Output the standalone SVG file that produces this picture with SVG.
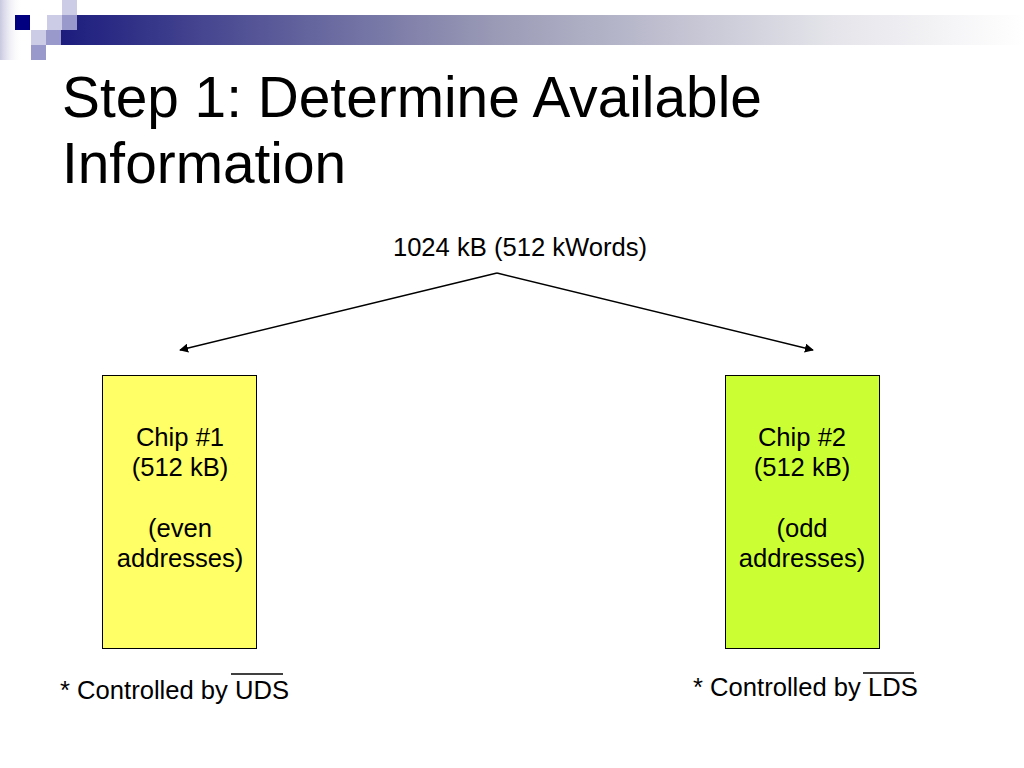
<svg xmlns="http://www.w3.org/2000/svg" width="1024" height="768" viewBox="0 0 1024 768">
<defs>
<style>
text{font-family:"Liberation Sans",Arial,sans-serif;fill:#000}
.t{font-size:56.8px}
.b{font-size:25.6px}
.box{stroke:#000;stroke-width:1}
.conn{stroke:#000;stroke-width:1.5;fill:none}
</style>
<linearGradient id="bar" x1="0" y1="0" x2="1" y2="0">
<stop offset="0" stop-color="#1C1C7E"/>
<stop offset="0.45" stop-color="#9A9AB6"/>
<stop offset="0.8" stop-color="#E4E4EA"/>
<stop offset="1" stop-color="#FFFFFF"/>
</linearGradient>
<linearGradient id="edge" x1="0" y1="0" x2="1" y2="0">
<stop offset="0" stop-color="#C8C8E0"/>
<stop offset="1" stop-color="#FFFFFF" stop-opacity="0"/>
</linearGradient>
<marker id="ah" viewBox="0 0 10 10" refX="9" refY="5" markerWidth="9" markerHeight="9" markerUnits="userSpaceOnUse" orient="auto">
<path d="M0,0 L10,5 L0,10 Z" fill="#000"/>
</marker>
</defs>
<rect width="1024" height="768" fill="#FFFFFF"/>
<g id="header">
<rect x="0" y="0" width="22" height="60" fill="url(#edge)"/>
<rect x="61" y="15" width="963" height="30" fill="url(#bar)"/>
<rect x="15" y="15" width="15" height="15" fill="#000080"/>
<rect x="47" y="15" width="15" height="15" fill="#CCCCE6"/>
<rect x="62" y="0" width="15" height="15" fill="#CCCCE6"/>
<rect x="62" y="15" width="15" height="15" fill="#9999CC"/>
<rect x="31" y="30" width="15" height="15" fill="#CCCCE6"/>
<rect x="46" y="30" width="15" height="15" fill="#9999CC"/>
<rect x="31" y="45" width="15" height="15" fill="#9999CC"/>
</g>
<g id="title">
<text class="t" x="62" y="117">Step 1: Determine Available</text>
<text class="t" x="62" y="183">Information</text>
</g>
<g id="total">
<text class="b" x="520" y="256" text-anchor="middle">1024 kB (512 kWords)</text>
</g>
<g id="connectors">
<line class="conn" x1="497" y1="273" x2="180" y2="350" marker-end="url(#ah)"/>
<line class="conn" x1="497" y1="273" x2="813" y2="350" marker-end="url(#ah)"/>
</g>
<g id="chip1">
<rect class="box" x="102.5" y="375.5" width="154" height="273" fill="#FFFF66"/>
<text class="b" x="180" y="446" text-anchor="middle">Chip #1</text>
<text class="b" x="180" y="476" text-anchor="middle">(512 kB)</text>
<text class="b" x="180" y="537" text-anchor="middle">(even</text>
<text class="b" x="180" y="567" text-anchor="middle">addresses)</text>
</g>
<g id="chip2">
<rect class="box" x="725.5" y="375.5" width="154" height="273" fill="#CCFF33"/>
<text class="b" x="802" y="446" text-anchor="middle">Chip #2</text>
<text class="b" x="802" y="476" text-anchor="middle">(512 kB)</text>
<text class="b" x="802" y="537" text-anchor="middle">(odd</text>
<text class="b" x="802" y="567" text-anchor="middle">addresses)</text>
</g>
<g id="note1">
<text class="b" x="60" y="699">* Controlled by UDS</text>
<line x1="231" y1="674" x2="283" y2="674" stroke="#000" stroke-width="1.5"/>
</g>
<g id="note2">
<text class="b" x="693" y="696">* Controlled by LDS</text>
<line x1="863" y1="673" x2="914" y2="673" stroke="#000" stroke-width="1.5"/>
</g>
</svg>
